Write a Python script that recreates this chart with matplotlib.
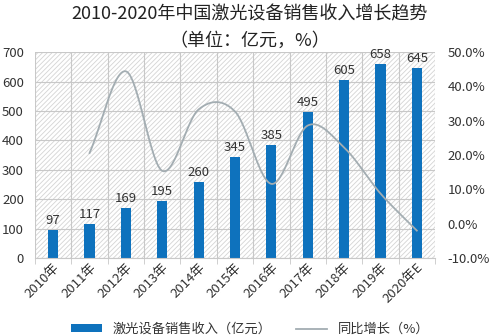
import numpy as np
import matplotlib.pyplot as plt

plt.rcParams['font.family'] = ['Noto Sans CJK SC', 'DejaVu Sans']
plt.rcParams['hatch.color'] = '#d4d4d4'
plt.rcParams['hatch.linewidth'] = 0.6

years = ['2010年', '2011年', '2012年', '2013年', '2014年', '2015年',
         '2016年', '2017年', '2018年', '2019年', '2020年E']
revenue = [97, 117, 169, 195, 260, 345, 385, 495, 605, 658, 645]
growth = [20.6, 44.4, 15.4, 33.3, 32.7, 11.6, 28.6, 22.2, 8.8, -2.0]  # from 2011

bar_color = '#0e72bd'
line_color = '#a3adb2'
text_color = '#333333'


def smooth(xs, ys, n=30):
    # Catmull-Rom style curve through the points, like a spreadsheet "smoothed line"
    xs = np.asarray(xs, float)
    ys = np.asarray(ys, float)
    px = np.concatenate([[2 * xs[0] - xs[1]], xs, [2 * xs[-1] - xs[-2]]])
    py = np.concatenate([[2 * ys[0] - ys[1]], ys, [2 * ys[-1] - ys[-2]]])
    ox, oy = [], []
    for i in range(1, len(px) - 2):
        p0, p1, p2, p3 = (np.array([px[j], py[j]]) for j in range(i - 1, i + 3))
        c1 = p1 + (p2 - p0) / 6
        c2 = p2 - (p3 - p1) / 6
        t = np.linspace(0, 1, n)[:, None]
        pts = ((1 - t) ** 3 * p1 + 3 * (1 - t) ** 2 * t * c1
               + 3 * (1 - t) * t ** 2 * c2 + t ** 3 * p2)
        ox.extend(pts[:, 0])
        oy.extend(pts[:, 1])
    return np.array(ox), np.array(oy)


fig = plt.figure(figsize=(5, 3.36), dpi=100)
ax = fig.add_axes([0.07, 0.232, 0.80, 0.613])
x = np.arange(len(years))

ax.set_xlim(-0.5, len(years) - 0.5)
ax.set_ylim(0, 700)
ax.patch.set_facecolor('white')
ax.patch.set_hatch('///////')
ax.patch.set_edgecolor('#d4d4d4')

ax.set_yticks(range(0, 701, 100))
ax.set_xticks(x)
ax.set_xticklabels(years, rotation=45, ha='right', rotation_mode='anchor',
                   fontsize=9.5, color=text_color)
ax.set_xticks(np.arange(-0.5, len(years), 1), minor=True)
ax.grid(axis='y', color='#c8c8c8', lw=0.8)
ax.grid(axis='x', which='minor', color='#c8c8c8', lw=0.8)
ax.tick_params(axis='x', which='both', length=0, pad=2)
ax.tick_params(axis='x', which='minor', length=4, color='#c8c8c8')
ax.tick_params(axis='y', length=0, labelsize=9.5, labelcolor=text_color, pad=8)
ax.set_axisbelow(True)
for s in ax.spines.values():
    s.set_visible(False)
ax.spines['bottom'].set_visible(True)
ax.spines['bottom'].set_color('#c8c8c8')

bars = ax.bar(x, revenue, width=0.28, color=bar_color, zorder=2)
for xi, v in zip(x, revenue):
    ax.text(xi, v + 10, str(v), ha='center', va='bottom', fontsize=9.5,
            color=text_color, zorder=4)

ax2 = ax.twinx()
ax2.set_ylim(-10, 50)
ax2.set_yticks(range(-10, 51, 10))
ax2.set_yticklabels([f'{v:.1f}%' for v in range(-10, 51, 10)])
ax2.tick_params(axis='y', length=0, labelsize=9.5, labelcolor=text_color, pad=9)
for s in ax2.spines.values():
    s.set_visible(False)
sx, sy = smooth(x[1:], growth)
line, = ax2.plot(sx, sy, color=line_color, lw=1.3, zorder=3)

fig.text(0.5, 0.957, '2010-2020年中国激光设备销售收入增长趋势',
         ha='center', va='center', fontsize=13, color='#222222')
fig.text(0.5, 0.88, '（单位：亿元，%）', ha='center', va='center',
         fontsize=13, color='#222222')

fig.legend([bars, line], ['激光设备销售收入（亿元）', '同比增长（%）'],
           loc='lower center', bbox_to_anchor=(0.5, -0.035), ncol=2,
           frameon=False, fontsize=9.5, handlelength=2.4, handleheight=0.55,
           columnspacing=1.8, labelcolor=text_color)

fig.savefig('out.png', dpi=100)
